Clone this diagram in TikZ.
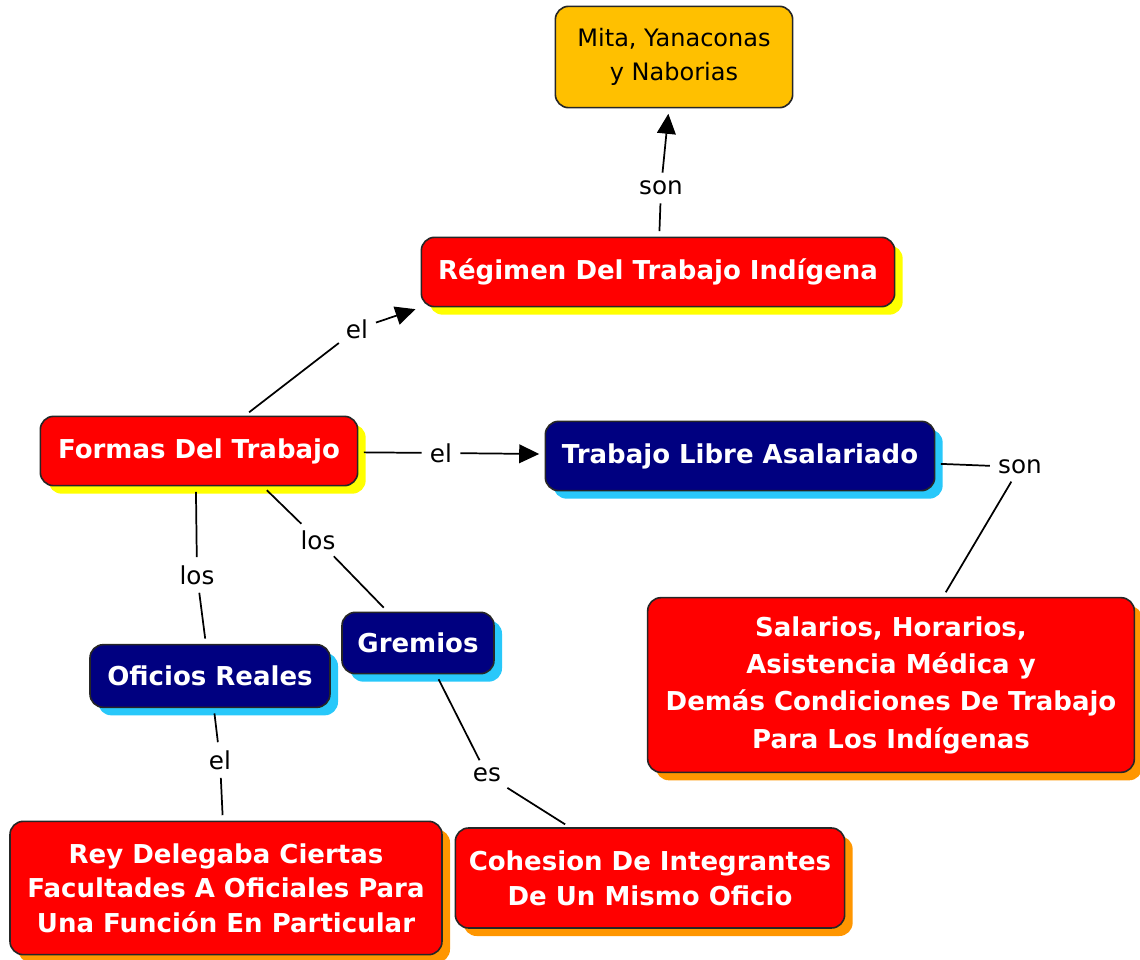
\documentclass[tikz,border=0pt]{standalone}
\usepackage{fontspec}
\setmainfont{DejaVu Sans}
\usetikzlibrary{arrows.meta, shadows}

\definecolor{boxred}{RGB}{255,0,0}
\definecolor{boxnavy}{RGB}{0,0,128}
\definecolor{boxgold}{RGB}{255,192,0}
\definecolor{shyellow}{RGB}{255,255,0}
\definecolor{shcyan}{RGB}{40,200,250}
\definecolor{shorange}{RGB}{255,150,0}

\tikzset{
  concept/.style={draw=black!85, line width=1.2pt, rounded corners=10pt, align=center,
    text=white, font=\fontsize{19.5}{26}\selectfont\bfseries, inner sep=4pt},
  redbox/.style={concept, fill=boxred},
  navybox/.style={concept, fill=boxnavy},
  goldbox/.style={concept, fill=boxgold, text=black, font=\fontsize{18}{26}\selectfont},
  yshade/.style={general shadow={fill=shyellow, shadow xshift=6pt, shadow yshift=-6pt}},
  cshade/.style={general shadow={fill=shcyan, shadow xshift=6pt, shadow yshift=-6pt}},
  oshade/.style={general shadow={fill=shorange, shadow xshift=6pt, shadow yshift=-6pt}},
  linkword/.style={fill=white, inner sep=2pt, font=\fontsize{18.5}{22}\selectfont},
  link/.style={line width=1.3pt, shorten <=4pt, shorten >=4pt},
  arrowlink/.style={link, -{Triangle[length=15pt,width=14pt]}}
}

\begin{document}
\begin{tikzpicture}[x=0.75pt,y=-0.75pt]
\useasboundingbox (0,0) rectangle (1140,960);

% conceptos
\node[goldbox, minimum width=178pt, minimum height=76pt] (mita) at (674,57) {Mita, Yanaconas\\y Naborias};
\node[redbox, yshade, minimum width=355pt, minimum height=52pt] (regimen) at (658,272) {Régimen Del Trabajo Indígena};
\node[redbox, yshade, minimum width=238pt, minimum height=52pt] (formas) at (199,451) {Formas Del Trabajo};
\node[navybox, cshade, minimum width=292pt, minimum height=52pt] (libre) at (740,456) {Trabajo Libre Asalariado};
\node[navybox, cshade, minimum width=180pt, minimum height=47pt] (oficios) at (210,676) {Oficios Reales};
\node[navybox, cshade, minimum width=114pt, minimum height=46pt] (gremios) at (418,643) {Gremios};
\node[redbox, oshade, minimum width=365pt, minimum height=131pt, font=\fontsize{19.5}{28}\selectfont\bfseries] (salarios) at (891,685)
  {Salarios, Horarios,\\Asistencia Médica y\\Demás Condiciones De Trabajo\\Para Los Indígenas};
\node[redbox, oshade, minimum width=324pt, minimum height=100pt] (rey) at (226,888)
  {Rey Delegaba Ciertas\\Facultades A Oficiales Para\\Una Función En Particular};
\node[redbox, oshade, minimum width=292pt, minimum height=75pt] (cohesion) at (650,878)
  {Cohesion De Integrantes\\De Un Mismo Oficio};

% palabras de enlace
\node[linkword] (son1) at (661,188) {son};
\node[linkword] (el1) at (357,329) {el};
\node[linkword] (el2) at (441,453) {el};
\node[linkword] (son2) at (1020,467) {son};
\node[linkword] (los1) at (197,575) {los};
\node[linkword] (los2) at (318,540) {los};
\node[linkword] (el3) at (220,760) {el};
\node[linkword] (es1) at (487,775) {es};

% enlaces
\draw[link] (regimen) -- (son1);
\draw[arrowlink] (son1) -- (mita);
\draw[link] (formas) -- (el1);
\draw[arrowlink] (el1) -- (regimen.south west);
\draw[link] (formas) -- (el2);
\draw[arrowlink] (el2) -- (libre);
\draw[link] (libre) -- (son2);
\draw[link] (son2) -- (salarios);
\draw[link] (formas.-95) -- (los1);
\draw[link] (los1) -- (oficios);
\draw[link] (formas.-29) -- (los2);
\draw[link] (los2) -- (gremios);
\draw[link] (oficios) -- (el3);
\draw[link] (el3) -- (rey);
\draw[link] (gremios.-60) -- (es1);
\draw[link] (es1) -- (cohesion);
\end{tikzpicture}
\end{document}
